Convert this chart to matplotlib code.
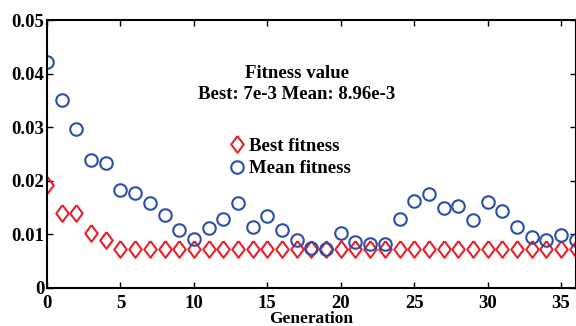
import numpy as np
import matplotlib.pyplot as plt

# Data
generation = np.arange(0, 37)
best_fitness = [0.0193, 0.0140, 0.0140, 0.0103, 0.0089] + [0.0072] * 32
mean_fitness = [0.0422, 0.0350, 0.0296, 0.0239, 0.0233, 0.0183, 0.0178, 0.0159,
                0.0137, 0.0109, 0.0091, 0.0112, 0.0129, 0.0158, 0.0114, 0.0135,
                0.0109, 0.0090, 0.0074, 0.0073, 0.0103, 0.0086, 0.0082, 0.0083,
                0.0129, 0.0163, 0.0176, 0.0150, 0.0153, 0.0126, 0.0161, 0.0143,
                0.0113, 0.0095, 0.0090, 0.0098, 0.0090]
xticks = [0, 5, 10, 15, 20, 25, 30, 35]
yticks = [0, 0.01, 0.02, 0.03, 0.04, 0.05]
ytick_labels = ["0", "0.01", "0.02", "0.03", "0.04", "0.05"]

plt.rcParams['font.family'] = ['Liberation Serif', 'DejaVu Serif']
plt.rcParams['font.weight'] = 'bold'

# diamond a bit taller than wide, like the MATLAB one
diamond = [(0, 1), (0.75, 0), (0, -1), (-0.75, 0), (0, 1)]

fig = plt.figure(figsize=(5.76, 3.26), dpi=100)
ax = fig.add_axes([0.0816, 0.1166, 0.918, 0.822])

ax.plot(generation, best_fitness, linestyle='none', marker=diamond, ms=12,
        mfc='none', mec='#e8202a', mew=1.5, label='Best fitness')
ax.plot(generation, mean_fitness, linestyle='none', marker='o', ms=9,
        mfc='none', mec='#2b4ea6', mew=1.5, label='Mean fitness')

ax.set_xlim(0, 36)
ax.set_ylim(0, 0.05)
ax.set_xticks(xticks)
ax.set_yticks(yticks)
ax.set_yticklabels(ytick_labels)
ax.tick_params(direction='in', top=True, right=True, length=4, width=1,
               labelsize=13.5, pad=2)
ax.tick_params(axis='x', pad=5)
for lab in ax.get_xticklabels() + ax.get_yticklabels():
    lab.set_fontweight('bold')
for s in ax.spines.values():
    s.set_linewidth(1.5)

ax.set_xlabel('Generation', fontsize=12.5, fontweight='bold', labelpad=-1)

ax.text(0.473, 0.761, 'Fitness value\nBest: 7e-3 Mean: 8.96e-3',
        transform=ax.transAxes, ha='center', va='center', fontsize=13.5,
        fontweight='bold', linespacing=1.25)

ax.legend(loc='upper left', bbox_to_anchor=(0.31, 0.625), frameon=False,
          prop={'size': 13.5, 'weight': 'bold'}, handletextpad=0.15,
          handlelength=1.0, labelspacing=0.3)

fig.savefig('out.png', dpi=100)
